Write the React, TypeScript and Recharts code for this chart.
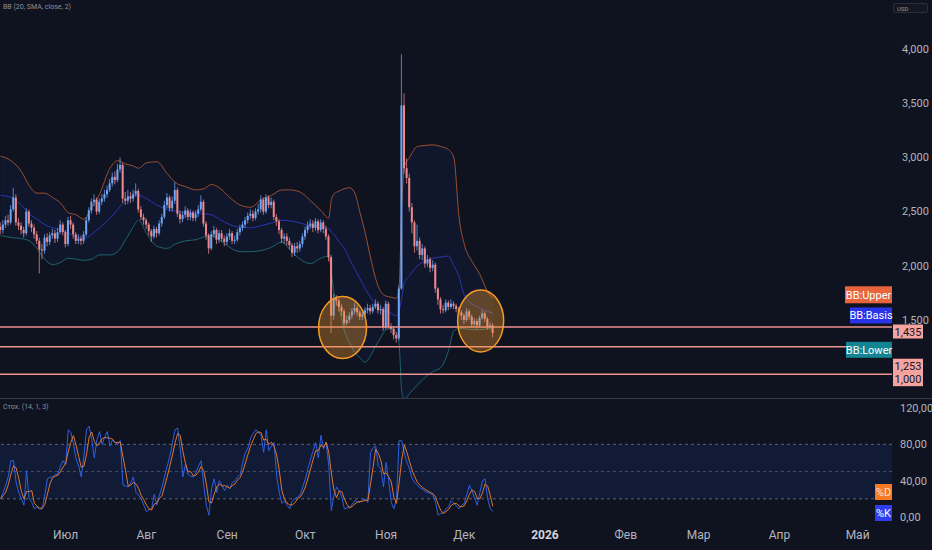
import React from "react";
import {
  ComposedChart,
  Bar,
  Line,
  Area,
  XAxis,
  YAxis,
  ReferenceLine,
  ReferenceDot,
  ReferenceArea,
} from "recharts";

const W = 932;
const PRICE_H = 398;
const STOCH_H = 150;
const BG = "#0f1320";
const FONT = "Roboto, 'Noto Sans', sans-serif";
const AXIS_TEXT = "#b2b5be";
const UP = "#6fa5f5";
const DOWN = "#f08a88";

// days since 6 June 2025
const X_DOMAIN: [number, number] = [-0.2, 342.2];
const PRICE_DOMAIN: [number, number] = [780, 4452];
const STOCH_DOMAIN: [number, number] = [-5.5, 128.8];

const monthTicks = [25, 56, 87, 117, 148, 178, 209, 240, 268, 299, 329];
const monthLabels = ["Июл", "Авг", "Сен", "Окт", "Ноя", "Дек", "2026", "Фев", "Мар", "Апр", "Май"];
const priceTicks = [1500, 2000, 2500, 3000, 3500, 4000];
const stochTicks = [0, 40, 80, 120];
const levels = [1435, 1253, 1000];

// daily candles (open = previous close)
const firstOpen = 2360;
const closes = [
  2330, 2380, 2420, 2400, 2520, 2630, 2400, 2370, 2330, 2300,
  2500, 2390, 2350, 2290, 2230, 2150, 2140, 2260, 2220, 2280,
  2300, 2250, 2310, 2380, 2310, 2200, 2420, 2380, 2290, 2230,
  2250, 2230, 2290, 2420, 2510, 2590, 2610, 2500, 2590, 2620,
  2660, 2700, 2760, 2820, 2790, 2890, 2930, 2620, 2600, 2640,
  2620, 2660, 2690, 2520, 2450, 2420, 2380, 2320, 2270, 2340,
  2300, 2390, 2450, 2560, 2630, 2530, 2600, 2700, 2480, 2430,
  2470, 2510, 2450, 2490, 2440, 2480, 2520, 2590, 2390, 2280,
  2160, 2290, 2330, 2240, 2300, 2250, 2220, 2270, 2300, 2230,
  2240, 2310, 2350, 2380, 2420, 2460, 2480, 2440, 2500, 2520,
  2610, 2500, 2630, 2560, 2590, 2450, 2410, 2330, 2250, 2270,
  2230, 2190, 2120, 2180, 2160, 2200, 2270, 2330, 2370, 2390,
  2350, 2410, 2330, 2400, 2340, 2270, 2080, 1540, 1700, 1680,
  1620, 1580, 1470, 1500, 1540, 1580, 1610, 1570, 1530, 1550,
  1590, 1610, 1580, 1620, 1650, 1590, 1600, 1430, 1650, 1440,
  1420, 1360, 1330, 1790, 3480, 2900, 2810, 2540, 2400, 2180,
  2230, 2100, 2160, 2020, 2060, 1980, 2010, 1790, 1690, 1600,
  1590, 1660, 1620, 1650, 1630, 1600, 1570, 1540, 1500, 1580,
  1530, 1460, 1490, 1450, 1520, 1560, 1510, 1440, 1450, 1380,
];
const highs = [
  2400, 2420, 2460, 2470, 2560, 2720, 2660, 2440, 2400, 2360,
  2530, 2520, 2420, 2380, 2320, 2260, 2200, 2290, 2300, 2310,
  2340, 2330, 2350, 2420, 2400, 2330, 2450, 2460, 2400, 2310,
  2290, 2280, 2320, 2450, 2540, 2620, 2660, 2630, 2620, 2660,
  2700, 2740, 2800, 2860, 2870, 2940, 3000, 2950, 2680, 2700,
  2680, 2700, 2760, 2710, 2550, 2480, 2440, 2400, 2340, 2370,
  2360, 2420, 2480, 2600, 2670, 2650, 2640, 2770, 2720, 2510,
  2500, 2550, 2530, 2520, 2510, 2510, 2560, 2650, 2610, 2410,
  2300, 2320, 2370, 2350, 2330, 2330, 2280, 2300, 2340, 2320,
  2280, 2340, 2380, 2410, 2450, 2490, 2520, 2510, 2530, 2570,
  2650, 2630, 2660, 2650, 2630, 2610, 2480, 2430, 2350, 2300,
  2300, 2260, 2210, 2210, 2220, 2230, 2300, 2360, 2410, 2430,
  2420, 2440, 2430, 2430, 2420, 2370, 2290, 2100, 1740, 1730,
  1700, 1650, 1600, 1540, 1570, 1610, 1660, 1640, 1590, 1580,
  1620, 1650, 1640, 1650, 1690, 1670, 1640, 1620, 1680, 1670,
  1470, 1440, 1390, 1820, 3950, 3590, 2990, 2850, 2580, 2420,
  2380, 2260, 2200, 2180, 2100, 2080, 2050, 2030, 1800, 1710,
  1640, 1690, 1680, 1690, 1670, 1650, 1620, 1590, 1560, 1610,
  1600, 1550, 1520, 1510, 1540, 1590, 1580, 1530, 1480, 1470,
];
const lows = [
  2290, 2300, 2350, 2370, 2380, 2500, 2370, 2330, 2290, 2260,
  2280, 2360, 2310, 2250, 2200, 1930, 2060, 2110, 2180, 2190,
  2250, 2210, 2220, 2290, 2280, 2170, 2180, 2340, 2250, 2200,
  2200, 2190, 2200, 2270, 2400, 2480, 2550, 2470, 2480, 2560,
  2590, 2630, 2680, 2730, 2750, 2770, 2860, 2580, 2560, 2570,
  2580, 2590, 2640, 2490, 2420, 2380, 2340, 2280, 2220, 2250,
  2260, 2280, 2360, 2430, 2530, 2500, 2500, 2570, 2450, 2390,
  2400, 2440, 2420, 2420, 2410, 2410, 2450, 2500, 2360, 2240,
  2110, 2140, 2260, 2200, 2210, 2220, 2180, 2190, 2240, 2200,
  2200, 2220, 2280, 2320, 2350, 2390, 2430, 2410, 2420, 2470,
  2490, 2470, 2480, 2530, 2530, 2420, 2370, 2290, 2210, 2200,
  2190, 2150, 2080, 2090, 2120, 2130, 2170, 2240, 2300, 2340,
  2310, 2320, 2300, 2310, 2300, 2240, 2040, 1380, 1500, 1630,
  1580, 1540, 1440, 1450, 1470, 1510, 1550, 1540, 1500, 1500,
  1520, 1560, 1550, 1560, 1600, 1560, 1550, 1400, 1410, 1420,
  1380, 1320, 1290, 1310, 1780, 2850, 2760, 2500, 2300, 2120,
  2140, 2060, 2050, 1980, 1990, 1940, 1950, 1750, 1640, 1560,
  1560, 1570, 1590, 1600, 1600, 1570, 1540, 1500, 1460, 1480,
  1500, 1430, 1440, 1420, 1430, 1500, 1480, 1410, 1410, 1340,
];

// Bollinger Bands (20, SMA, close, 2)
const bbDays = [
  0, 4, 8, 11, 14, 17, 20, 23, 26, 29, 32, 35, 38, 42, 45, 48, 51, 53, 56, 60,
  64, 67, 71, 75, 78, 81, 84, 88, 92, 96, 100, 104, 108, 111, 115, 119, 123, 126, 127, 128,
  130, 132, 134, 136, 138, 140, 142, 144, 146, 148, 150, 152, 153, 154, 155, 157, 160, 163, 166, 169,
  172, 174, 176, 178, 181, 184, 187, 189,
];
const bbUpper = [
  3010, 2970, 2870, 2740, 2670, 2670, 2630, 2580, 2490, 2470, 2430, 2540, 2660, 2900, 2970, 2940, 2920, 2900, 2950, 2960,
  2850, 2770, 2730, 2700, 2710, 2750, 2720, 2630, 2560, 2540, 2610, 2650, 2700, 2700, 2680, 2600, 2510, 2440, 2610, 2660,
  2690, 2710, 2720, 2670, 2490, 2300, 2080, 1880, 1760, 1720, 1710, 1700, 1800, 2550, 2910, 3000, 3100, 3110, 3115, 3100,
  3070, 3000, 2450, 2200, 2040, 1920, 1760, 1700,
];
const bbBasis = [
  2650, 2630, 2560, 2480, 2430, 2380, 2350, 2330, 2300, 2270, 2250, 2290, 2350, 2440, 2520, 2600, 2640, 2650, 2620, 2560,
  2520, 2505, 2495, 2490, 2480, 2470, 2430, 2380, 2355, 2350, 2370, 2395, 2420, 2415, 2395, 2365, 2350, 2345, 2310, 2290,
  2220, 2160, 2060, 1970, 1880, 1790, 1710, 1650, 1600, 1580, 1560, 1540, 1590, 1700, 1840, 1910, 2000, 2040, 2070, 2080,
  2090, 2000, 1900, 1730, 1650, 1610, 1580, 1560,
];
const bbLower = [
  2280, 2260, 2250, 2230, 2160, 2060, 2010, 2030, 2070, 2060, 2050, 2060, 2100, 2100, 2130, 2240, 2360, 2420, 2300, 2180,
  2160, 2200, 2230, 2240, 2265, 2280, 2240, 2170, 2130, 2130, 2140, 2170, 2220, 2150, 2060, 2020, 2070, 2090, 1930, 1750,
  1600, 1400, 1290, 1200, 1150, 1110, 1170, 1260, 1340, 1410, 1420, 1380, 1280, 850, 770, 820, 900, 970, 1025, 1060,
  1220, 1400, 1420, 1420, 1410, 1410, 1420, 1460,
];

// Stochastic %K (14, 1), daily
const stochK = [
  20, 27, 35, 45, 62, 62, 38, 27, 20, 13,
  51, 20, 16, 9, 11, 9, 9, 24, 42, 44,
  44, 47, 47, 56, 62, 58, 96, 93, 80, 64,
  56, 44, 67, 96, 100, 85, 65, 85, 94, 80,
  88, 94, 78, 85, 82, 80, 84, 35, 34, 33,
  38, 44, 27, 24, 20, 13, 6, 8, 9, 25,
  13, 24, 33, 45, 56, 67, 82, 96, 98, 75,
  44, 58, 47, 45, 44, 49, 56, 62, 35, 13,
  2, 31, 42, 27, 40, 35, 29, 35, 31, 38,
  40, 44, 47, 60, 71, 76, 87, 92, 96, 93,
  90, 71, 96, 73, 78, 82, 45, 27, 15, 18,
  13, 9, 18, 20, 22, 24, 33, 42, 53, 64,
  73, 82, 65, 90, 75, 82, 56, 7, 24, 33,
  29, 22, 9, 10, 11, 14, 18, 17, 16, 19,
  20, 16, 71, 76, 78, 56, 53, 33, 60, 40,
  16, 9, 20, 84, 84, 70, 60, 53, 42, 38,
  35, 32, 31, 28, 27, 26, 24, 16, 2, 4,
  5, 9, 11, 18, 15, 12, 9, 13, 15, 25,
  35, 29, 20, 13, 27, 40, 42, 20, 9, 6,
];

// drawn circles: centre day / price
const circleDays = [131.3, 184.3];
const circlePrices = [1430, 1491];

const candleRows = closes.map((close, i) => ({
  day: i,
  open: i === 0 ? firstOpen : closes[i - 1],
  high: highs[i],
  low: lows[i],
  close,
  range: [lows[i], highs[i]],
}));

const bbRows = bbDays.map((day, i) => ({
  day,
  upper: bbUpper[i],
  basis: bbBasis[i],
  lower: bbLower[i],
}));

const stochRows = stochK.map((k, i) => {
  const win = stochK.slice(Math.max(0, i - 2), i + 1);
  return { day: i, k, d: win.reduce((a, b) => a + b, 0) / win.length };
});

const fmtPrice = (v: number) => v.toLocaleString("en-US");
const fmtStoch = (v: number) => v.toFixed(2).replace(".", ",");

const Candle = (props: any) => {
  const { x, y, width, height, payload } = props;
  if (x == null || y == null) return null;
  const top = Math.min(y, y + height);
  const h = Math.abs(height);
  const { open, close, high, low } = payload;
  const span = high - low || 1;
  const py = (v: number) => top + ((high - v) / span) * h;
  const cx = x + width / 2;
  const color = close >= open ? UP : DOWN;
  const bTop = py(Math.max(open, close));
  const bBot = py(Math.min(open, close));
  return (
    <g>
      <line x1={cx} x2={cx} y1={top} y2={top + h} stroke={color} strokeWidth={1} strokeOpacity={0.75} />
      <rect x={cx - 1} y={bTop} width={2} height={Math.max(1, bBot - bTop)} fill={color} />
    </g>
  );
};

// coloured tag at the right edge of the plot or on the price scale
const tag =
  (text: string, bg: string, fg: string, dy: number, w: number, h: number, onAxis: boolean) =>
  (p: any) => {
    const vb = p.viewBox || {};
    const right = (vb.x || 0) + (vb.width || 0);
    const x = onAxis ? right + 1 : right - w;
    const cy = (vb.y || 0) + dy;
    return (
      <g>
        <rect x={x} y={cy - h / 2} width={w} height={h} fill={bg} />
        <text x={x + w / 2} y={cy + 4} textAnchor="middle" fill={fg} fontSize={11} fontFamily={FONT}>
          {text}
        </text>
      </g>
    );
  };

const Ellipse = (rx: number, ry: number) => (p: any) =>
  (
    <ellipse
      cx={p.cx}
      cy={p.cy}
      rx={rx}
      ry={ry}
      fill="#f39a2b"
      fillOpacity={0.35}
      stroke="#f59a23"
      strokeWidth={1.5}
    />
  );

const MonthTick = (p: any) => {
  const label = monthLabels[monthTicks.indexOf(p.payload.value)];
  return (
    <text
      x={p.x}
      y={p.y + 9}
      textAnchor="middle"
      fill={label === "2026" ? "#d1d4dc" : AXIS_TEXT}
      fontSize={12}
      fontWeight={label === "2026" ? 700 : 400}
      fontFamily={FONT}
    >
      {label}
    </text>
  );
};

const margin = { top: 0, right: 0, bottom: 0, left: 0 };
const levelLabelDy = [4.5, 19, 5];

export default function App() {
  const lastK = stochRows[stochRows.length - 1];
  const lastBB = bbRows[bbRows.length - 1];
  const stochPx = (v: number) => (122 * (STOCH_DOMAIN[1] - v)) / (STOCH_DOMAIN[1] - STOCH_DOMAIN[0]);
  return (
    <div
      style={{
        position: "absolute",
        left: 0,
        top: 0,
        width: W,
        height: 550,
        background: BG,
        overflow: "hidden",
        fontFamily: FONT,
      }}
    >
      {/* price pane: bands underneath */}
      <div style={{ position: "absolute", left: 0, top: 0 }}>
        <ComposedChart width={W} height={PRICE_H} data={bbRows} margin={margin}>
          <XAxis dataKey="day" type="number" domain={X_DOMAIN} allowDataOverflow hide />
          <YAxis
            orientation="right"
            width={40}
            domain={PRICE_DOMAIN}
            allowDataOverflow
            ticks={priceTicks}
            tickFormatter={fmtPrice}
            axisLine={false}
            tickLine={false}
            tickMargin={4}
            tick={{ fill: AXIS_TEXT, fontSize: 11, fontFamily: FONT }}
          />
          <Area
            type="monotone"
            dataKey={(r: any) => [r.lower, r.upper]}
            stroke="none"
            fill="#2962ff"
            fillOpacity={0.06}
            isAnimationActive={false}
          />
          <Line type="monotone" dataKey="upper" stroke="#9a4f2f" strokeWidth={1} dot={false} isAnimationActive={false} />
          <Line type="monotone" dataKey="basis" stroke="#2a36b4" strokeWidth={1} dot={false} isAnimationActive={false} />
          <Line type="monotone" dataKey="lower" stroke="#1d646c" strokeWidth={1} dot={false} isAnimationActive={false} />
        </ComposedChart>
      </div>

      {/* price pane: candles, levels, tags */}
      <div style={{ position: "absolute", left: 0, top: 0 }}>
        <ComposedChart width={W} height={PRICE_H} data={candleRows} margin={margin}>
          <XAxis dataKey="day" type="number" domain={X_DOMAIN} allowDataOverflow hide />
          <YAxis orientation="right" width={40} domain={PRICE_DOMAIN} allowDataOverflow tick={false} axisLine={false} tickLine={false} />
          {levels.map((lv, i) => (
            <ReferenceLine
              key={lv}
              y={lv}
              stroke="#ee928e"
              strokeWidth={1.5}
              label={tag(fmtPrice(lv), "#f7a3a0", "#131722", levelLabelDy[i], 30, 14, true)}
            />
          ))}
          <Bar dataKey="range" barSize={2} shape={Candle} isAnimationActive={false} />
          {circleDays.map((d, i) => (
            <ReferenceDot key={d} x={d} y={circlePrices[i]} r={1} shape={Ellipse(i === 0 ? 24 : 23, 31)} />
          ))}
          <ReferenceLine y={lastBB.upper} stroke="none" label={tag("BB:Upper", "#e8643c", "#ffffff", -3.5, 47, 17, false)} />
          <ReferenceLine y={lastBB.basis} stroke="none" label={tag("BB:Basis", "#2b35e8", "#ffffff", 2, 42, 16, false)} />
          <ReferenceLine y={lastBB.lower} stroke="none" label={tag("BB:Lower", "#138592", "#ffffff", 25.5, 46, 16, false)} />
        </ComposedChart>
      </div>

      <div style={{ position: "absolute", left: 3, top: 3, fontSize: 7, color: "#8a8f9c" }}>BB (20, SMA, close, 2)</div>
      <div
        style={{
          position: "absolute",
          left: 893,
          top: 3,
          width: 35,
          height: 10,
          border: "1px solid #2a2e39",
          borderRadius: 2,
          background: "#131722",
          fontSize: 6,
          lineHeight: "10px",
          color: "#9598a1",
          paddingLeft: 3,
          boxSizing: "border-box",
        }}
      >
        USD
      </div>

      <div style={{ position: "absolute", left: 0, top: 398, width: W, height: 1, background: "#363a45" }} />

      {/* stochastic pane */}
      <div style={{ position: "absolute", left: 0, top: 400 }}>
        <ComposedChart width={W} height={STOCH_H} data={stochRows} margin={margin}>
          <XAxis
            dataKey="day"
            type="number"
            domain={X_DOMAIN}
            allowDataOverflow
            ticks={monthTicks}
            interval={0}
            height={28}
            axisLine={false}
            tickLine={false}
            tick={<MonthTick />}
          />
          <YAxis
            orientation="right"
            width={40}
            domain={STOCH_DOMAIN}
            allowDataOverflow
            ticks={stochTicks}
            tickFormatter={fmtStoch}
            axisLine={false}
            tickLine={false}
            tickMargin={2}
            tick={{ fill: AXIS_TEXT, fontSize: 11, fontFamily: FONT }}
          />
          <ReferenceArea y1={20} y2={80} fill="#2962ff" fillOpacity={0.1} stroke="none" />
          <ReferenceLine y={80} stroke="#5d6473" strokeDasharray="3 3" />
          <ReferenceLine y={50} stroke="#4a505e" strokeDasharray="3 3" />
          <ReferenceLine y={20} stroke="#5d6473" strokeDasharray="3 3" />
          <Line type="linear" dataKey="k" stroke="#2d5fe3" strokeWidth={1} dot={false} isAnimationActive={false} />
          <Line type="linear" dataKey="d" stroke="#e0772c" strokeWidth={1} dot={false} isAnimationActive={false} />
          <ReferenceLine y={lastK.d} stroke="none" label={tag("%D", "#f57a24", "#ffe0d0", 92 - stochPx(lastK.d), 17, 16, false)} />
          <ReferenceLine y={lastK.k} stroke="none" label={tag("%K", "#2e3df0", "#ffffff", 113 - stochPx(lastK.k), 17, 16, false)} />
        </ComposedChart>
      </div>
      <div style={{ position: "absolute", left: 3, top: 403, fontSize: 7, color: "#8a8f9c" }}>Стох. (14, 1, 3)</div>
    </div>
  );
}
